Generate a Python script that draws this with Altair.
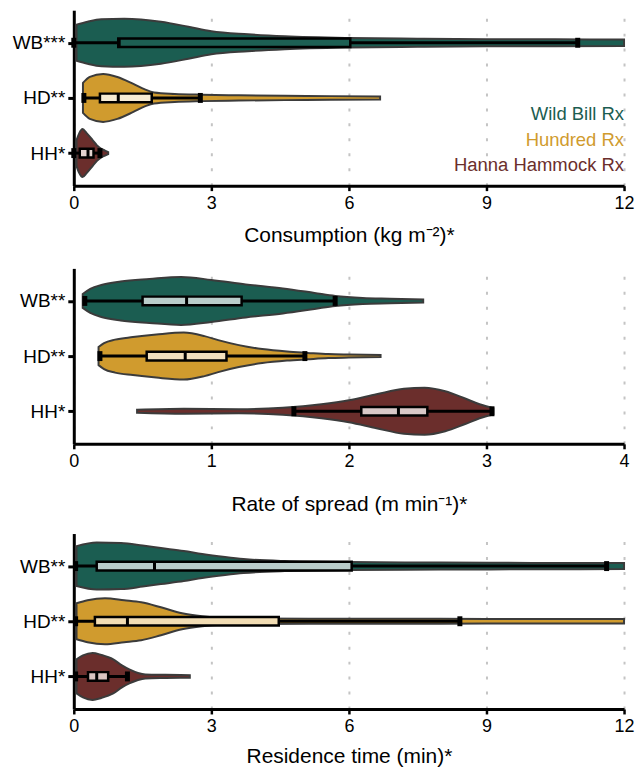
import altair as alt
import pandas as pd

SITES = ["WB", "HD", "HH"]
SITE_NAMES = ["Wild Bill Rx", "Hundred Rx", "Hanna Hammock Rx"]
SITE_COLORS = ["#1b5d51", "#d09b2e", "#6b2e2c"]

CONS_LABELS = ["WB***", "HD**", "HH*"]
ROS_LABELS = ["WB**", "HD**", "HH*"]
RES_LABELS = ["WB**", "HD**", "HH*"]

CONS_TICKS = [0, 3, 6, 9, 12]
ROS_TICKS = [0, 1, 2, 3, 4]
RES_TICKS = [0, 3, 6, 9, 12]

CONS_TITLE = "Consumption (kg m\u207b\u00b2)*"
ROS_TITLE = "Rate of spread (m min\u207b\u00b9)*"
RES_TITLE = "Residence time (min)*"

# violin profiles: positions and relative density
CONS_WB_X = [0.06, 0.3, 0.6, 1.1, 1.9, 2.5, 3.0, 3.8, 4.6, 6.0, 7.5, 9.0, 10.5, 12.0]
CONS_WB_D = [0.72, 0.84, 0.94, 0.96, 0.84, 0.64, 0.46, 0.34, 0.26, 0.19, 0.16, 0.14, 0.136, 0.132]
CONS_HD_X = [0.2, 0.35, 0.64, 0.95, 1.3, 1.55, 1.75, 2.2, 2.8, 3.6, 4.6, 5.6, 6.68]
CONS_HD_D = [0.60, 0.84, 0.96, 0.84, 0.56, 0.34, 0.22, 0.16, 0.128, 0.104, 0.088, 0.072, 0.06]
CONS_HH_X = [0.06, 0.12, 0.19, 0.28, 0.41, 0.5, 0.59, 0.68, 0.75]
CONS_HH_D = [0.52, 0.80, 0.96, 0.80, 0.52, 0.32, 0.18, 0.10, 0.04]

ROS_WB_X = [0.065, 0.12, 0.2, 0.34, 0.55, 0.78, 1.0, 1.25, 1.52, 1.75, 1.9, 2.1, 2.3, 2.54]
ROS_WB_D = [0.28, 0.48, 0.64, 0.78, 0.88, 0.96, 0.84, 0.66, 0.50, 0.32, 0.20, 0.12, 0.092, 0.06]
ROS_HD_X = [0.18, 0.22, 0.3, 0.43, 0.6, 0.8, 0.95, 1.05, 1.2, 1.37, 1.55, 1.7, 1.85, 2.0, 2.23]
ROS_HD_D = [0.36, 0.52, 0.66, 0.76, 0.86, 0.94, 0.80, 0.64, 0.44, 0.28, 0.18, 0.128, 0.08, 0.06, 0.04]
ROS_HH_X = [0.46, 0.8, 1.2, 1.52, 1.8, 2.0, 2.2, 2.4, 2.55, 2.7, 2.84, 2.95, 3.05]
ROS_HH_D = [0.06, 0.10, 0.08, 0.14, 0.28, 0.44, 0.68, 0.90, 0.94, 0.80, 0.52, 0.28, 0.12]

RES_WB_X = [0.06, 0.5, 1.03, 1.5, 1.9, 2.4, 2.8, 3.3, 3.7, 4.6, 6.0, 8.0, 10.0, 12.0]
RES_WB_D = [0.80, 0.94, 0.92, 0.82, 0.72, 0.60, 0.48, 0.36, 0.28, 0.20, 0.16, 0.14, 0.128, 0.12]
RES_HD_X = [0.06, 0.3, 0.68, 1.1, 1.47, 1.9, 2.36, 2.8, 3.24, 4.0, 6.0, 8.0, 10.0, 12.0]
RES_HD_D = [0.72, 0.84, 0.92, 0.84, 0.76, 0.56, 0.32, 0.20, 0.14, 0.112, 0.10, 0.096, 0.092, 0.088]
RES_HH_X = [0.06, 0.2, 0.41, 0.6, 0.86, 1.05, 1.21, 1.4, 1.56, 2.0, 2.53]
RES_HH_D = [0.68, 0.84, 0.94, 0.86, 0.68, 0.44, 0.28, 0.14, 0.08, 0.064, 0.052]

# box plot statistics (WB, HD, HH)
CONS_MIN = [0.0, 0.22, 0.0]
CONS_Q1 = [0.97, 0.57, 0.13]
CONS_MED = [0.99, 0.97, 0.31]
CONS_Q3 = [6.03, 1.70, 0.43]
CONS_MAX = [10.99, 2.76, 0.57]

ROS_MIN = [0.08, 0.19, 1.60]
ROS_Q1 = [0.50, 0.53, 2.09]
ROS_MED = [0.82, 0.81, 2.36]
ROS_Q3 = [1.22, 1.11, 2.57]
ROS_MAX = [1.90, 1.68, 3.04]

RES_MIN = [0.04, 0.04, 0.04]
RES_Q1 = [0.50, 0.46, 0.31]
RES_MED = [1.76, 1.17, 0.50]
RES_Q3 = [6.06, 4.47, 0.75]
RES_MAX = [11.62, 8.42, 1.17]

CONS_FILLS = ["#1d5f53", "#f6ebd3", "#e3d3d0"]
ROS_FILLS = ["#b9cdca", "#f2e0bd", "#d9c9c8"]
RES_FILLS = ["#b9ccca", "#f2ddb4", "#d9c4c1"]

W = 0.453      # half-width scale of the violins (in category units)
BH = 0.078     # half-height of the boxes
CH = 0.09      # half-height of whisker caps
FONT = "Liberation Sans"


def panel(xs, ds, labels, ticks, title, mins, q1s, meds, q3s, maxs, fills, title_pad, legend=False):
    vrows = []
    for i, (s, xv, dv) in enumerate(zip(SITES, xs, ds)):
        for a, b in zip(xv, dv):
            vrows.append({"site": s, "idx": i, "x": a, "d": b})
    vdf = pd.DataFrame(vrows)
    bdf = pd.DataFrame({"site": SITES, "idx": [0, 1, 2], "mn": mins, "q1": q1s,
                        "med": meds, "q3": q3s, "mx": maxs, "fill": fills})

    xscale = alt.Scale(domain=[ticks[0], ticks[-1]], nice=False, zero=False)
    yscale = alt.Scale(domain=[-0.59, 2.59], reverse=True, nice=False, zero=False)
    label_expr = "[" + ",".join("'%s'" % l for l in labels) + "][datum.value]"
    xaxis = alt.Axis(values=ticks, grid=True, gridDash=[3, 12], gridColor="#c4c4c4",
                     gridWidth=2, domainColor="black", domainWidth=3, tickColor="black",
                     tickWidth=2.5, tickSize=5, labelFontSize=18, labelColor="black",
                     labelPadding=4, labelFlush=False, title=title, titleFontSize=21,
                     titleFontWeight="normal", titleColor="black", titlePadding=title_pad)
    yaxis = alt.Axis(values=[0, 1, 2], labelExpr=label_expr, grid=False, domainColor="black",
                     domainWidth=3, tickColor="black", tickWidth=3, tickSize=6,
                     labelFontSize=19, labelColor="black", labelPadding=3, title=None,
                     minExtent=60, maxExtent=60)
    color = alt.Color("site:N", scale=alt.Scale(domain=SITES, range=SITE_COLORS), legend=None)

    violin = alt.Chart(vdf).transform_calculate(
        lo="datum.idx - datum.d * %f" % W, hi="datum.idx + datum.d * %f" % W
    ).mark_area(stroke="#3b3b3b", strokeWidth=2, interpolate="monotone", orient="vertical",
                fillOpacity=1).encode(
        x=alt.X("x:Q", scale=xscale, axis=xaxis),
        y=alt.Y("lo:Q", scale=yscale, axis=yaxis),
        y2="hi:Q",
        color=color,
        detail="site:N",
    )
    whisk = alt.Chart(bdf).mark_rule(color="black", strokeWidth=3).encode(
        x=alt.X("mn:Q", scale=xscale, axis=xaxis), x2="mx:Q",
        y=alt.Y("idx:Q", scale=yscale, axis=yaxis),
    )
    box = alt.Chart(bdf).transform_calculate(
        b0="datum.idx - %f" % BH, b1="datum.idx + %f" % BH
    ).mark_rect(stroke="black", strokeWidth=2.5).encode(
        x=alt.X("q1:Q", scale=xscale, axis=xaxis), x2="q3:Q",
        y=alt.Y("b0:Q", scale=yscale, axis=yaxis), y2="b1:Q",
        fill=alt.Fill("fill:N", scale=None),
    )
    med = alt.Chart(bdf).transform_calculate(
        b0="datum.idx - %f" % BH, b1="datum.idx + %f" % BH
    ).mark_rule(color="black", strokeWidth=3).encode(
        x=alt.X("med:Q", scale=xscale, axis=xaxis),
        y=alt.Y("b0:Q", scale=yscale, axis=yaxis), y2="b1:Q",
    )
    cap_lo = alt.Chart(bdf).transform_calculate(
        c0="datum.idx - %f" % CH, c1="datum.idx + %f" % CH
    ).mark_rule(color="black", strokeWidth=5).encode(
        x=alt.X("mn:Q", scale=xscale, axis=xaxis),
        y=alt.Y("c0:Q", scale=yscale, axis=yaxis), y2="c1:Q",
    )
    cap_hi = alt.Chart(bdf).transform_calculate(
        c0="datum.idx - %f" % CH, c1="datum.idx + %f" % CH
    ).mark_rule(color="black", strokeWidth=5).encode(
        x=alt.X("mx:Q", scale=xscale, axis=xaxis),
        y=alt.Y("c0:Q", scale=yscale, axis=yaxis), y2="c1:Q",
    )
    layers = [violin, whisk, box, med, cap_lo, cap_hi]
    if legend:
        ldf = pd.DataFrame({"site": SITES, "name": SITE_NAMES, "i": [0, 1, 2]})
        txt = alt.Chart(ldf).transform_calculate(
            ly="1.30 + 0.46 * datum.i", lx=str(ticks[-1])
        ).mark_text(align="right", baseline="middle", fontSize=18.5, font=FONT).encode(
            x=alt.X("lx:Q", scale=xscale, axis=xaxis),
            y=alt.Y("ly:Q", scale=yscale, axis=yaxis),
            text="name:N",
            color=color,
        )
        layers.append(txt)
    return alt.layer(*layers).properties(width=552, height=176)


p1 = panel([CONS_WB_X, CONS_HD_X, CONS_HH_X], [CONS_WB_D, CONS_HD_D, CONS_HH_D], CONS_LABELS,
           CONS_TICKS, CONS_TITLE, CONS_MIN, CONS_Q1, CONS_MED, CONS_Q3, CONS_MAX, CONS_FILLS,
           12, legend=True)
p2 = panel([ROS_WB_X, ROS_HD_X, ROS_HH_X], [ROS_WB_D, ROS_HD_D, ROS_HH_D], ROS_LABELS,
           ROS_TICKS, ROS_TITLE, ROS_MIN, ROS_Q1, ROS_MED, ROS_Q3, ROS_MAX, ROS_FILLS, 23)
p3 = panel([RES_WB_X, RES_HD_X, RES_HH_X], [RES_WB_D, RES_HD_D, RES_HH_D], RES_LABELS,
           RES_TICKS, RES_TITLE, RES_MIN, RES_Q1, RES_MED, RES_Q3, RES_MAX, RES_FILLS, 10)

chart = alt.vconcat(alt.vconcat(p1, p2, spacing=23), p3, spacing=19).properties(
    padding={"left": 4, "top": 1, "right": 0, "bottom": 0}
).configure(font=FONT).configure_view(stroke=None)

chart.save("out.html", embed_options={"renderer": "svg", "actions": False})
